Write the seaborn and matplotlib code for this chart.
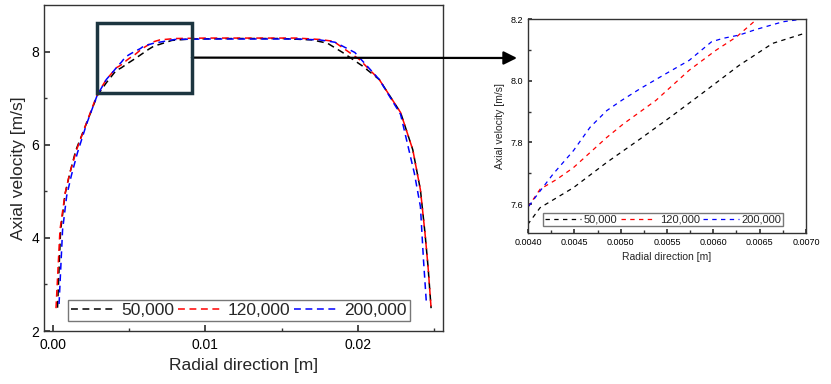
import numpy as np
import pandas as pd
import seaborn as sns
import matplotlib.pyplot as plt
from matplotlib.patches import Rectangle

# Radial velocity profiles for three Reynolds numbers
x_50k = [0.0003, 0.0005, 0.0008, 0.0011, 0.0015, 0.0022, 0.0029, 0.0035, 0.0040,
         0.00413, 0.00449, 0.00485, 0.00521, 0.00556, 0.00592, 0.00628, 0.00664,
         0.0070, 0.0078, 0.0090, 0.0120, 0.0150, 0.0170, 0.0180, 0.0190, 0.0203,
         0.0214, 0.0228, 0.0236, 0.0241, 0.0244, 0.0246, 0.0248]
v_50k = [2.50, 4.15, 4.95, 5.38, 5.88, 6.46, 7.05, 7.33, 7.535,
         7.588, 7.653, 7.735, 7.811, 7.887, 7.968, 8.050, 8.121,
         8.155, 8.24, 8.27, 8.28, 8.28, 8.25, 8.18, 7.98, 7.69,
         7.40, 6.69, 5.89, 5.03, 4.10, 3.38, 2.49]

x_120k = [0.0002, 0.00046, 0.0008, 0.0011, 0.00155, 0.0022, 0.0029, 0.0035, 0.0040,
          0.00413, 0.00431, 0.00449, 0.00467, 0.00485, 0.00503, 0.00538, 0.00574,
          0.00603, 0.00625, 0.00646, 0.0070, 0.0080, 0.0100, 0.0130, 0.0160, 0.0175,
          0.0184, 0.0201, 0.0214, 0.0228, 0.0236, 0.0241, 0.0244, 0.0246, 0.0248]
v_120k = [2.49, 4.17, 4.96, 5.39, 5.89, 6.47, 7.08, 7.40, 7.59,
          7.648, 7.680, 7.718, 7.767, 7.816, 7.860, 7.936, 8.034,
          8.099, 8.142, 8.197, 8.25, 8.28, 8.29, 8.29, 8.29, 8.26,
          8.22, 7.83, 7.40, 6.69, 5.89, 5.03, 4.10, 3.38, 2.49]

x_200k = [0.0004, 0.00063, 0.0009, 0.0012, 0.0016, 0.0022, 0.0029, 0.0035, 0.0040,
          0.00413, 0.00427, 0.00449, 0.00467, 0.00485, 0.00501, 0.00521, 0.00549,
          0.00574, 0.00598, 0.0061, 0.00628, 0.00646, 0.00675, 0.00697, 0.0080,
          0.0100, 0.0130, 0.0160, 0.0175, 0.0185, 0.0198, 0.0214, 0.0228, 0.0237,
          0.0241, 0.0243, 0.0245]
v_200k = [2.58, 4.17, 4.90, 5.33, 5.82, 6.44, 7.06, 7.40, 7.59,
          7.642, 7.697, 7.773, 7.849, 7.903, 7.936, 7.974, 8.023,
          8.066, 8.126, 8.137, 8.148, 8.166, 8.191, 8.200, 8.26,
          8.27, 8.27, 8.27, 8.25, 8.20, 7.98, 7.40, 6.65, 5.39,
          4.67, 3.53, 2.56]

labels = ["50,000", "120,000", "200,000"]
colors = ["black", "red", "blue"]

df = pd.concat([
    pd.DataFrame({"x": x_50k, "v": v_50k, "Re": labels[0]}),
    pd.DataFrame({"x": x_120k, "v": v_120k, "Re": labels[1]}),
    pd.DataFrame({"x": x_200k, "v": v_200k, "Re": labels[2]}),
])

sns.set_theme(style="ticks")
plt.rcParams["font.family"] = ["Liberation Sans", "DejaVu Sans"]

fig = plt.figure(figsize=(8.31, 3.84), dpi=100)
ax = fig.add_axes([0.0529, 0.138, 0.480, 0.849])
ax_in = fig.add_axes([0.6354, 0.3932, 0.3345, 0.5573])


def draw(a, lw, dash):
    for lab, col in zip(labels, colors):
        sub = df[df["Re"] == lab]
        sns.lineplot(data=sub, x="x", y="v", ax=a, color=col, lw=lw,
                     dashes=False, label=lab, sort=True)
    for line in a.get_lines():
        line.set_dashes(dash)


def style(a, labsize, ticksize):
    for s in a.spines.values():
        s.set_color("#333333")
        s.set_linewidth(1.0)
    a.tick_params(which="both", direction="in", labelsize=ticksize,
                  top=False, right=False, colors="#333333", labelcolor="black")
    a.tick_params(which="major", length=4)
    a.tick_params(which="minor", length=2.5)
    a.set_xlabel("Radial direction [m]", fontsize=labsize)
    a.set_ylabel("Axial velocity [m/s]", fontsize=labsize)


# main profile
draw(ax, 1.1, (4.5, 3))
ax.set_xlim(-0.00059, 0.02557)
ax.set_ylim(2, 9)
ax.set_xticks([0.00, 0.01, 0.02])
ax.set_xticklabels(["0.00", "0.01", "0.02"])
ax.set_xticks([0.005, 0.015, 0.025], minor=True)
ax.set_yticks([2, 4, 6, 8])
ax.set_yticks([3, 5, 7], minor=True)
style(ax, 12.5, 10)
ax.tick_params(axis="x", pad=5)
ax.legend(ncol=3, loc="center", bbox_to_anchor=(0.489, 0.063), fontsize=12.5,
          frameon=True, fancybox=False, edgecolor="#777777", framealpha=1,
          handlelength=2.6, handletextpad=0.3, columnspacing=0.2,
          borderpad=0.15, borderaxespad=0)

# zoom box + arrow to the inset
ax.add_patch(Rectangle((0.00289, 7.12), 0.00622, 1.50, fill=False,
                       edgecolor="#1c3540", lw=2.5, zorder=5))
ax.annotate("", xy=(517 / 831, 1 - 58 / 384), xycoords="figure fraction",
            xytext=(0.00911, 7.87), textcoords="data",
            arrowprops=dict(arrowstyle="-|>", color="black", lw=1.6,
                            mutation_scale=20, shrinkA=0, shrinkB=0),
            annotation_clip=False)

# inset
draw(ax_in, 0.9, (3.5, 3.5))
ax_in.set_xlim(0.004, 0.007)
ax_in.set_ylim(7.506, 8.2)
ax_in.set_xticks(np.arange(0.0040, 0.00701, 0.0005))
ax_in.set_xticklabels(["0.0040", "0.0045", "0.0050", "0.0055",
                       "0.0060", "0.0065", "0.0070"])
ax_in.set_xticks(np.arange(0.00425, 0.007, 0.0005), minor=True)
ax_in.set_yticks([7.6, 7.8, 8.0, 8.2])
ax_in.set_yticklabels(["7.6", "7.8", "8.0", "8.2"])
ax_in.set_yticks([7.7, 7.9, 8.1], minor=True)
style(ax_in, 7.5, 6.5)
ax_in.tick_params(which="major", length=3)
ax_in.tick_params(which="minor", length=2)
ax_in.legend(ncol=3, loc="center", bbox_to_anchor=(0.487, 0.063), fontsize=8,
             frameon=True, fancybox=False, edgecolor="#777777", framealpha=1,
             handlelength=3.2, handletextpad=0.3, columnspacing=0.3,
             borderpad=0.15, borderaxespad=0)

fig.savefig("out.png", dpi=100)
